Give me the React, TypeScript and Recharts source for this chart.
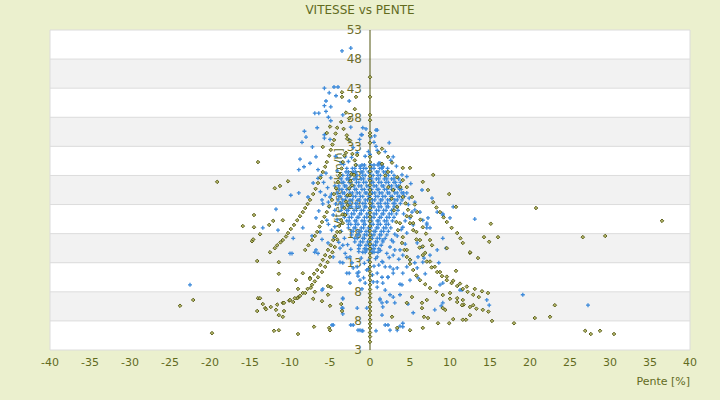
import { ScatterChart, Scatter, XAxis, YAxis, CartesianGrid, ReferenceLine } from "recharts"

// --- data: [pente %, vitesse km/h] ---

const BLUE_POINTS: [number, number][] = [
  // high outliers
  [-3.5, 49.4], [-2.4, 49.9], [-5.7, 43], [-4.5, 43.2], [-4, 43.2], [-5.1, 42.2], [-4.25, 41.7], [-2.6, 40.8],
  [-5.5, 40.8], [-5.7, 40], [-4.9, 39.8], [-5.5, 39], [-6.9, 38.7], [-6.4, 38.7], [-3.4, 38.4], [-5.2, 38],
  [-4.9, 37.4], [-6.6, 36.2], [-8.2, 35.6], [-8, 34.6], [-5.7, 35], [-5.7, 34.4], [-2.4, 36.3], [-0.9, 36.2],
  [-0.5, 36], [0.75, 35.8], [-1.1, 35], [0.1, 34.6], [-8.5, 33.7], [-7.2, 32.9], [-5, 34.2], [-2.6, 34.1],
  [-2.1, 32.8], [0.75, 33], [-6.75, 31.2], [-8.75, 30.8], [-7.5, 30.1], [-8.9, 29], [-8.25, 29.5], [-6.5, 29],
  [-6.1, 28], [-6.5, 27.5], [-7.1, 26.7], [-9.9, 24.6], [-8.9, 25], [-7.75, 24.3],
  [0.9, 35.8], [0.6, 34.8], [0.5, 33.7], [2.4, 33.6], [1.25, 30.1], [1.6, 29.5], [-1, 35], [-0.6, 31.3],
  [-1.25, 29.6], [0.9, 32.3], [2.9, 31.2], [1.1, 30.1], [1.5, 29.3], [4, 28.1],
  // ring around the core
  [-4.4, 26.2], [-4.8, 24.8], [-4.3, 23.1], [-5.1, 22.6], [-4.6, 21.2], [-4.1, 20.4], [-5.3, 25.9], [-4.9, 27.6],
  [-4.1, 28.8], [-3.6, 30.2], [-4.3, 31.3], [-3.1, 31.2], [-2.3, 31.1], [-1.6, 31.9],
  [-1.4, 14.9], [-0.4, 15.2], [0.5, 14.8], [1.3, 15.1], [-1.1, 13.8], [-0.2, 13.4], [0.7, 13.7], [1.5, 13.2], [-0.7, 12.9],
  [-5.8, 26.8], [-5.5, 28.4], [-6.2, 25.2], [-5.9, 23.1], [-6.4, 21.9], [-5.2, 19.6], [-4.8, 18.6], [-4.5, 17.4],
  [-3.9, 16.5], [-3.4, 16], [-2.9, 13.9], [-2.1, 12.1], [4.6, 27.8], [5.1, 26.6], [4.9, 24.1], [4.8, 23], [5.6, 22.1],
  [4.4, 20.2], [4.2, 21.4], [3.9, 18.7], [3.1, 17.9], [2.7, 16.9], [2.4, 13.9], [1.9, 12.3], [1.1, 12.6], [-0.2, 12],
  [0.3, 10.9], [-0.8, 10.4], [3.3, 29.6], [2.6, 30.6], [-2.7, 30.4], [-3.3, 29.9], [0, 31.6], [-0.2, 32.1],
  [1.9, 32.1], [-1.3, 34.2],
  // right side
  [6.5, 25.5], [4.6, 25], [5.6, 23.4], [5.25, 21.7], [6.25, 21.7],
  [7.75, 24.1], [8.4, 21.7], [9.1, 21.4], [10, 20.7], [10.4, 22.6], [13.1, 20.5], [9.1, 17.2], [7.25, 20.7], [7.1, 19],
  [6.6, 20.3], [7.1, 19.8], [5.9, 16.4], [6.5, 15.7], [8.4, 15.2], [6, 14], [4.1, 14.3], [3.1, 15.2], [2.5, 15.7],
  [1.6, 16.9], [0.9, 14], [4.1, 19.1], [4.6, 18.1], [5, 20.7], [5.4, 19.5],
  [3.5, 26], [9.1, 21.2], [9.5, 15.5], [8.6, 13], [7.1, 19.5], [7.5, 19],
  [5.6, 13], [6.75, 13.8], [7.5, 14.3], [3.4, 17.6], [2.9, 16.6], [4.4, 16.2], [3.6, 13.6],
  // lower middle
  [19.1, 7.5], [27.25, 5.7], [14.9, 5.7], [14.6, 6.6], [11.25, 8.3], [9.1, 9.5], [8.9, 5.6], [8.1, 4.9], [5.4, 4.4],
  [4.1, 2.6], [3.75, 2.1], [1.9, 2.3], [0.75, 1.3], [2.5, 1.4], [2.9, 7.1], [1.25, 6.8], [1.5, 4], [-0.4, 5.2],
  [3.1, 6.1], [4.75, 5.9], [5, 10], [6, 10.4], [6.9, 11.1], [3.75, 9.3], [2.9, 11.9], [2.25, 10.5], [0.4, 9.7], [1.6, 9.5],
  [0.9, 9.7], [0.9, 8.8], [1.25, 6.6], [1.5, 6.1], [1.6, 5.4], [2.1, 6.25], [2.5, 7.5], [1.9, 8.3], [3.75, 7.5], [4, 9.2],
  [2.25, 2.3], [3.4, 1.4], [4.1, 2], [9.1, 6.1], [11.5, 8.3], [8.75, 9.2],
  [0.9, 11.2], [1.5, 10.5], [2.25, 10.5], [2.9, 11.2], [3.4, 12.1], [4.1, 11.2], [4.6, 12.3], [5, 13.5], [5.9, 12.1],
  [6.6, 13.1], [2.5, 12.3], [1.6, 13.1], [2.1, 14.6], [2.9, 14.3], [3.75, 15.2], [-0.4, 11.75], [0.5, 12.4],
  // left side
  [-6.75, 20.7], [-6.25, 18.3], [-6, 23.8], [-5, 24.3], [-5.4, 20.3], [-4.4, 22], [-11.75, 22.2], [-11.5, 18.6],
  [-13.4, 19], [-9.6, 17.2], [-8.4, 19], [-9.75, 14.6], [-6.75, 15.2], [-7.25, 17.6], [-6, 17], [-5.9, 8.5],
  [-3.4, 6.8], [-3.4, 5.2], [-3.4, 4.2], [-4.75, 2.3], [-2.4, 2.3], [-1.5, 1.4], [-1, 1.3], [-1.6, 5.2],
  [-1, 8.5], [-1.5, 10.7], [-1.4, 11.4], [-2.6, 11.2], [-3.4, 13], [-22.5, 9.2],
  [-6.9, 14.8], [-6.5, 14.6], [-5.25, 16.4], [-10, 14.6], [-4.6, 14], [-3.75, 15.5], [-3.1, 14.6], [-2.5, 14],
  [-2.25, 13], [-1.6, 12.3], [-1.6, 11.2], [-1.25, 10], [-0.6, 9.5], [-6, 8.3], [-3.4, 6.9], [-3.5, 5.2],
  [-4.6, 2.3], [-2.1, 2.3], [-1.25, 1.4], [-0.9, 1.3], [-3.75, 13.1], [-2.9, 11.2], [-2.5, 9.5],
  [-3.2, 17.2], [-2.8, 16.1], [-3.6, 18.4], [-2.4, 15.3], [-4.4, 19.2], [-5.6, 24.6], [-5.2, 23.4],
]

// the dense core, one row of pente values per vitesse level
const CORE_ROW_V: number[] = [
  29.8, 29.2, 28.6, 28, 27.4, 26.8, 26.2, 25.6, 25, 24.4, 23.8, 23.2, 22.6,
  22, 21.4, 20.8, 20.2, 19.6, 19, 18.4, 17.8, 17.2, 16.6, 16, 15.4, 14.8,
]
const CORE_ROW_X: number[][] = [
  [-1.7, -1, -0.7, 0.1, 0.5, 1, 1.5],
  [-2.9, -2.2, -1.9, -1.2, -0.8, -0.5, 0.2, 0.5, 1.2, 1.5, 2.2],
  [-3, -2.7, -2.1, -1.8, -1.1, -0.9, -0.2, 0.1, 0.8, 1, 1.7, 2, 2.7],
  [-3.4, -2.8, -2.5, -1.8, -1.6, -0.9, -0.6, 0.1, 0.4, 1, 1.3, 2, 2.3, 3],
  [-3.6, -2.9, -2.7, -2, -1.7, -1.1, -0.8, -0.1, 0.2, 0.8, 1.1, 1.8, 2.1, 2.7, 3, 3.6],
  [-3.5, -3.3, -2.6, -2.4, -1.7, -1.4, -0.8, -0.5, 0.2, 0.4, 1.1, 1.4, 2, 2.3, 3, 3.2, 3.8],
  [-3.9, -3.2, -3, -2.3, -2, -1.4, -1.1, -0.4, -0.1, 0.5, 0.8, 1.5, 1.7, 2.4, 2.7, 3.3, 3.6],
  [-3.8, -3.5, -2.9, -2.6, -1.9, -1.7, -1, -0.7, -0.1, 0.2, 0.9, 1.1, 1.8, 2.1, 2.7, 3, 3.7, 3.9],
  [-4.1, -3.4, -3.2, -2.5, -2.2, -1.6, -1.3, -0.6, -0.4, 0.3, 0.6, 1.2, 1.5, 2.2, 2.4, 3.1, 3.4, 4, 4.2],
  [-3.9, -3.7, -3, -2.8, -2.1, -1.8, -1.2, -0.9, -0.2, 0, 0.7, 1, 1.6, 1.9, 2.6, 2.8, 3.5, 3.7, 4.3],
  [-4, -3.4, -3.1, -2.5, -2.2, -1.5, -1.3, -0.6, -0.3, 0.3, 0.6, 1.3, 1.5, 2.2, 2.5, 3.1, 3.4, 4],
  [-3.7, -3.4, -2.8, -2.5, -1.8, -1.6, -0.9, -0.6, 0.1, 0.3, 1, 1.3, 1.9, 2.2, 2.9, 3.1, 3.8],
  [-3.5, -3.3, -2.6, -2.3, -1.7, -1.4, -0.7, -0.5, 0.2, 0.5, 1.1, 1.4, 2.1, 2.3, 3, 3.3],
  [-3.6, -2.9, -2.7, -2, -1.7, -1.1, -0.8, -0.1, 0.1, 0.8, 1.1, 1.7, 2, 2.7, 2.9, 3.5],
  [-3.2, -2.9, -2.3, -2, -1.3, -1.1, -0.4, -0.1, 0.5, 0.8, 1.5, 1.7, 2.4, 2.7, 3.3],
  [-3.2, -2.6, -2.3, -1.6, -1.4, -0.7, -0.4, 0.2, 0.5, 1.2, 1.4, 2.1, 2.4, 3],
  [-2.9, -2.6, -1.9, -1.7, -1, -0.7, -0.1, 0.2, 0.9, 1.1, 1.8, 2.1, 2.8],
  [-2.7, -2.4, -1.8, -1.5, -0.8, -0.6, 0.1, 0.4, 1, 1.3, 2, 2.3],
  [-2.7, -2, -1.8, -1.1, -0.8, -0.2, 0.1, 0.8, 1, 1.7, 2, 2.6],
  [-2.3, -2.1, -1.4, -1.1, -0.5, -0.2, 0.5, 0.7, 1.4, 1.7, 2.3],
  [-2.3, -1.6, -1.4, -0.7, -0.4, 0.2, 0.5, 1.2, 1.4, 2.1],
  [-1.9, -1.6, -0.9, -0.7, 0, 0.3, 0.9, 1.2, 1.9],
  [-1.9, -1.2, -0.9, -0.3, 0, 0.7, 0.9, 1.6],
  [-1.4, -1.2, -0.5, -0.2, 0.4, 0.7, 1.4],
  [-1.4, -0.7, -0.5, 0.2, 0.5, 1.1],
  [-0.9, -0.6, 0.1, 0.3, 1],
]

const OLIVE_AXIS_V: number[] = [
  -0.6, 0.3, 1, 1.8, 2.5, 3.2, 4, 4.7, 5.4, 6.2, 7, 7.7, 8.4, 9.2, 10, 10.8, 11.5, 12.3, 13.1, 13.9, 14.6,
  15.4, 16.2, 17, 17.7, 18.5, 19.3, 20.1, 20.9, 21.6, 22.4, 23.2, 24, 24.8, 25.5, 26.3, 27.1, 27.9, 28.7,
  29.5, 30.3, 31.2, 33.6, 34.8, 35.3, 37.5, 38.4, 41.5, 44.9,
]

const OLIVE_LEFT_CURVES: [number, number][] = [
  [-12.5, 14.8], [-11.9, 15.5], [-11.6, 16], [-11.2, 16.5], [-10.9, 16.9], [-10.5, 17.5], [-10.25, 18.1], [-9.9, 18.8],
  [-9.5, 19.5], [-9.1, 20.3], [-8.75, 21], [-8.4, 21.7], [-8.1, 22.4], [-7.8, 23.1], [-7.5, 23.8], [-7.1, 24.8],
  [-6.8, 25.7], [-6.5, 26.7], [-6.2, 27.6], [-5.9, 28.6], [-5.6, 29.5], [-5.4, 30.3], [-5.1, 31.4], [-4.9, 32.4],
  [-4.7, 33.3], [-4.5, 34.1], [-4.3, 35.2], [-4.1, 36.2],
  [-8.1, 15.2], [-7.7, 16], [-7.25, 16.9], [-6.9, 17.6], [-6.6, 18.3], [-6.3, 19.2], [-6, 20], [-5.7, 20.9],
  [-5.4, 21.7], [-5.1, 22.7], [-4.75, 23.8], [-4.5, 24.8], [-4.25, 25.8], [-4, 26.9], [-3.75, 28.1], [-3.55, 29.2],
  [-3.4, 30.3], [-3.2, 31.4], [-3, 31.9], [-2.85, 34.3],
  [-7.5, 10.4], [-7, 11.1], [-6.6, 11.75], [-6.2, 12.6], [-5.9, 13.5], [-5.6, 14.3], [-5.25, 15.2], [-4.9, 16],
  [-4.6, 16.9], [-4.35, 17.6], [-4.1, 18.3], [-3.85, 19.3], [-3.6, 20.3], [-3.4, 21.3], [-3.2, 22.4], [-3, 23.5],
  [-2.8, 24.6], [-2.6, 25.8], [-2.45, 27], [-2.3, 28.2],
  [-9.6, 6.25], [-9, 7], [-8.4, 7.8], [-7.8, 8.5], [-7.25, 9.2], [-6.9, 9.8], [-6.5, 10.5], [-6, 11.4], [-5.6, 12.3],
  [-5.3, 13.1], [-5, 14], [-4.7, 14.8], [-4.4, 15.7], [-4.1, 17], [-3.75, 18.3], [-3.4, 19.8], [-3.1, 21.2],
  [-2.8, 22.9], [-2.5, 24.6], [-2.25, 26.3], [-2, 28.1], [-1.8, 29.8], [-1.6, 31.5],
  [-13.1, 5.2], [-12.4, 5.4], [-11.6, 5.8], [-10.9, 6.1], [-10.1, 6.5], [-9.1, 6.9],
  [-3.6, 37.2], [-3.3, 36], [-2.9, 34.9], [-2.5, 34], [-2.2, 31.7], [-1.9, 30.6], [-5.4, 35.3], [-5, 36.4],
  [-3.5, 42.3], [-3.5, 41.5], [-1.75, 41.5], [-1.9, 39.4], [-5.9, 32.9], [-3, 38.8], [-2.6, 37.8],
]

const OLIVE_RIGHT_CURVES: [number, number][] = [
  [1.5, 30], [1.9, 28], [2.3, 26], [2.7, 24], [3, 22], [3.3, 20], [3.5, 18.6], [4, 16.4], [4.3, 15.2], [4.6, 14],
  [5, 12.8], [5.4, 11.75], [5.8, 10.8], [6.25, 10], [6.9, 9.3], [7.5, 8.65], [8.3, 8], [9.1, 7.45], [10, 6.8],
  [10.9, 6.25], [11.7, 5.8], [12.5, 5.4], [13.3, 5.1], [14.1, 4.9], [14.8, 4.6],
  [2.25, 28.6], [2.9, 25.5], [3.4, 22.6], [3.75, 19.8], [4.1, 17.4], [4.6, 15.2], [5, 13.5],
  [3.4, 27.7], [3.8, 26], [4.1, 24.3], [4.45, 23.2], [4.75, 22.1], [5.1, 21], [5.4, 19.8], [5.8, 18.3], [6.25, 16.9],
  [6.6, 15.8], [6.9, 14.7], [7.5, 13.2], [8.1, 12.3], [8.75, 11.4], [9.6, 10.6], [10.4, 9.9], [11.25, 9.4],
  [12.1, 8.9], [13.1, 8.5], [14, 8.1], [14.75, 7.8],
  [4.1, 27.2], [4.6, 26], [5.25, 24.3], [5.6, 23], [5.9, 21.7], [6.3, 20.4], [6.6, 19.1], [7, 18], [7.5, 16.9], [7.75, 16],
  [6.6, 26.9], [7.25, 25.5], [7.9, 23.4], [8.3, 22.5], [8.75, 21.7], [9.2, 20.8], [9.6, 20], [10.2, 19], [10.9, 18.1],
  [11.3, 17.2], [11.6, 16.4],
  [4.6, 21], [5, 19.8], [5.4, 18.6], [5.8, 17], [6.2, 15.6], [6.6, 14.3], [7.1, 13.2], [7.7, 12.2], [8.4, 11.4],
  [9, 10.7], [9.6, 10], [10.2, 9.5], [10.9, 9], [11.6, 8.5], [12.2, 8], [12.9, 7.5], [13.6, 7.1],
  [1.5, 32.6], [2.25, 31.2], [4.1, 29.3], [5, 29.3], [7.9, 28.1], [2.75, 30.2], [1.1, 31.9],
  [9.9, 24.8], [10.75, 22.6], [9.6, 15.5], [12.5, 14.7], [13.5, 13.8],
]

const OLIVE_SCATTERED: [number, number][] = [
  [20.75, 22.4], [41.4, 21.4], [36.5, 20.2], [15.1, 19.7], [14.25, 17.4], [16, 17.4], [14.9, 16.6], [26.6, 17.4],
  [29.4, 17.6], [12.5, 14.8], [10.75, 11.6], [23.1, 5.7], [22.5, 3.7], [20.6, 3.5], [18, 2.6], [15.25, 3],
  [26.9, 1.3], [27.6, 0.75], [28.75, 1.3], [30.5, 0.75], [42.1, 3.3], [2.75, 3.7], [3.4, 1.8], [5, 1.4], [6.6, 1.8],
  [6.75, 3.7], [7.25, 3.5], [8.5, 2.6], [9.9, 2.6], [10.4, 3.3], [11.6, 3.2], [12, 3.2], [12.5, 4], [4.6, 6.1],
  [5.25, 7.1], [6.5, 6.1], [6.5, 5.2], [7.1, 6.6], [9.1, 5.2], [9.4, 4.9], [10, 7.8], [10.9, 6.9], [11.5, 5.7],
  [11.6, 6.6], [12.9, 5.7],
  [-42.6, 0.9], [-19.1, 26.9], [-14, 30.3], [-11.9, 25.8], [-11.25, 26.2], [-10.25, 27], [-15.9, 19.3],
  [-14.5, 21.2], [-14.5, 19.1], [-13.75, 17.9], [-12.1, 20.2], [-10.9, 20.3], [-12.6, 19.5], [-14.75, 16.7],
  [-14.6, 17], [-14.1, 13.3], [-11.4, 13.1], [-11.4, 11.1], [-11.5, 8.3], [-8.4, 11.2], [-9.25, 10], [-9, 8.5],
  [-7.5, 10.2], [-7.4, 8.7], [-6.9, 8], [-7.1, 6.8], [-6, 6.4], [-5.25, 7.5], [-5.25, 9], [-4.9, 8.8], [-5, 5.6],
  [-3.6, 5.9], [-3.5, 4.7], [-7, 2], [-5.1, 1.8], [-5, 1.4], [-9, 0.75], [-12, 1.3], [-11.4, 1.4], [-14, 6.9],
  [-13.75, 6.9], [-13.4, 5.9], [-13, 5], [-14.1, 4.7], [-11.75, 4.9], [-11.4, 4], [-10.9, 3.7], [-10.75, 4.7],
  [-10.75, 6.1], [-10, 6.6], [-9.4, 6.9], [-8.75, 7.3], [-8.1, 7.8], [-22.1, 6.6], [-23.75, 5.6], [-19.75, 0.9],
]

const X_TICKS = [-40, -35, -30, -25, -20, -15, -10, -5, 0, 5, 10, 15, 20, 25, 30, 35, 40]
const Y_TICKS = [-2, 3, 8, 13, 18, 23, 28, 33, 38, 43, 48, 53]
const Y_TICK_LABELS = ["3", "8", "8", "13", "18", "23", "28", "33", "38", "43", "48", "53"]

const BG = "#EBF0CE"
const TEXT = "#626B1E"
const BLUE = "#3D8ADA"
const OLIVE = "#51550E"

const PLOT_LEFT = 50
const PLOT_W = 640
const ZERO_X = PLOT_LEFT + PLOT_W / 2

type Pt = { x: number; y: number; kind: "blue" | "olive" }

const tag = (arr: [number, number][], kind: Pt["kind"]): Pt[] => arr.map(([x, y]) => ({ x, y, kind }))

// blue first, olive afterwards so the olive marks sit on top
const points: Pt[] = [
  ...CORE_ROW_V.flatMap((v, i) => CORE_ROW_X[i].map((x) => ({ x, y: v, kind: "blue" as const }))),
  ...tag(BLUE_POINTS, "blue"),
  ...OLIVE_AXIS_V.map((v) => ({ x: 0, y: v, kind: "olive" as const })),
  ...tag(OLIVE_LEFT_CURVES, "olive"),
  ...tag(OLIVE_RIGHT_CURVES, "olive"),
  ...tag(OLIVE_SCATTERED, "olive"),
]

// "+" for the blue series, small diamond for the olive one
function Mark({ cx, cy, payload }: { cx?: number; cy?: number; payload?: Pt }) {
  if (cx == null || cy == null) return null
  if (payload?.kind === "blue") {
    return <path d={`M${cx - 2},${cy}h4M${cx},${cy - 2}v4`} stroke={BLUE} strokeWidth={1.3} fill="none" />
  }
  return (
    <path
      d={`M${cx},${cy - 1.8}L${cx + 1.8},${cy}L${cx},${cy + 1.8}L${cx - 1.8},${cy}Z`}
      fill="#B4B76A"
      stroke={OLIVE}
      strokeWidth={0.9}
    />
  )
}

// y tick labels sit against the x = 0 axis
const yTickLabel = (text: string) => (props: any) => (
  <text
    x={ZERO_X - 8}
    y={props.viewBox?.y}
    dy="0.36em"
    textAnchor="end"
    fill="#6E6E2A"
    fontSize={12}
    fontFamily="DejaVu Sans"
  >
    {text}
  </text>
)

const yTitle = () => (
  <g transform={`translate(${ZERO_X - 32}, 188) rotate(-90)`}>
    <text x={0} y={0} textAnchor="middle" dy="0.36em" fill={TEXT} fontSize={11} fontFamily="DejaVu Sans">
      Vitesse [km/h]
    </text>
  </g>
)

export default function App() {
  return (
    <div
      style={{
        position: "absolute",
        left: 0,
        top: 0,
        width: 720,
        height: 400,
        background: BG,
        fontFamily: "DejaVu Sans",
      }}
    >
      <div
        style={{
          position: "absolute",
          top: 3,
          left: 0,
          width: 720,
          textAlign: "center",
          fontSize: 12,
          lineHeight: "14px",
          color: TEXT,
        }}
      >
        VITESSE vs PENTE
      </div>
      <ScatterChart width={720} height={400} margin={{ top: 30, right: 30, bottom: 10, left: 50 }}>
        <CartesianGrid
          stroke="#DCDCDC"
          horizontalFill={["#FFFFFF", "#F2F2F2"]}
          verticalCoordinatesGenerator={({ offset }: any) => [offset.left, offset.left + offset.width]}
        />
        <XAxis
          type="number"
          dataKey="x"
          domain={[-40, 40]}
          ticks={X_TICKS}
          interval={0}
          allowDataOverflow
          axisLine={false}
          tickLine={false}
          height={40}
          tick={{ fill: TEXT, fontSize: 11, fontFamily: "DejaVu Sans" }}
          label={{
            value: "Pente [%]",
            position: "insideBottomRight",
            offset: 5,
            dx: 5,
            fill: TEXT,
            fontSize: 11,
            fontFamily: "DejaVu Sans",
          }}
        />
        <YAxis type="number" dataKey="y" domain={[-2, 53]} ticks={Y_TICKS} allowDataOverflow width={0} hide />
        {Y_TICKS.map((t, i) => (
          <ReferenceLine key={t} y={t} stroke="none" label={yTickLabel(Y_TICK_LABELS[i])} />
        ))}
        <ReferenceLine x={0} stroke={OLIVE} strokeWidth={1} label={yTitle} />
        <Scatter data={points} shape={<Mark />} isAnimationActive={false} />
      </ScatterChart>
    </div>
  )
}
